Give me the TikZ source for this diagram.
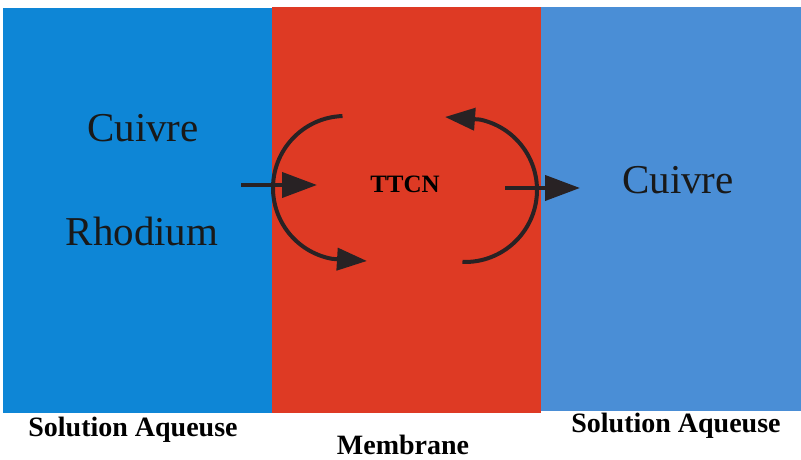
\documentclass[tikz,border=0pt]{standalone}
\usepackage{fontspec}
\setmainfont{Liberation Serif}
\usepackage{xcolor}
\usepackage{tikz}
\usetikzlibrary{arrows.meta}
\definecolor{leftblue}{RGB}{14,134,214}
\definecolor{membred}{RGB}{222,58,36}
\definecolor{rightblue}{RGB}{74,142,214}
\definecolor{arrowgray}{RGB}{40,34,36}
\tikzset{
	flow/.style={draw=arrowgray, line width=4pt, -{Triangle[length=35pt, width=25pt]}},
	turn/.style={draw=arrowgray, line width=4pt, -{Triangle[length=30pt, width=22pt]}},
	bigtext/.style={anchor=base, font=\fontsize{41}{41}\selectfont, text=black!90},
	labeltext/.style={anchor=base, font=\fontsize{28}{28}\selectfont\bfseries}
}

\begin{document}
\begin{tikzpicture}[x=1pt, y=1pt]
				\useasboundingbox (0, 0) rectangle (801, 460);
				% Panels:
				\node[fill=leftblue, inner sep=0pt, minimum width=269pt, minimum height=405pt, anchor=north west](LeftSol) at (3, 452){};
				\node[fill=membred, inner sep=0pt, minimum width=269pt, minimum height=406pt, anchor=north west](Memb) at (272, 453){};
				\node[fill=rightblue, inner sep=0pt, minimum width=260pt, minimum height=404pt, anchor=north west](RightSol) at (541, 453){};
				% Texts:
				\node[bigtext](CuL) at (143, 318){Cuivre};
				\node[bigtext](Rh) at (142, 214){Rhodium};
				\node[anchor=base, font=\fontsize{25}{25}\selectfont\bfseries](Ttcn) at (405, 267){TTCN};
				\node[bigtext](CuR) at (678, 266){Cuivre};
				\node[labeltext](SolL) at (133, 23){Solution Aqueuse};
				\node[labeltext](MembL) at (403, 5){Membrane};
				\node[labeltext](SolR) at (676, 27){Solution Aqueuse};
				% Arrows:
				\coordinate (inA) at (241, 275);
				\coordinate (inB) at (317, 275);
				\coordinate (outA) at (505, 272);
				\coordinate (outB) at (580, 272);
				\coordinate (downTip) at (367, 199);
				\coordinate (upTip) at (445, 343);
				\draw[flow] (inA) -- (inB);
				\draw[flow] (outA) -- (outB);
				\draw[turn] (345, 272) ++(92:72) arc[start angle=92, end angle=260, radius=72] -- (downTip);
				\draw[turn] (465, 270) ++(-92:72) arc[start angle=-92, end angle=78, radius=72] -- (upTip);
			\end{tikzpicture}
\end{document}
